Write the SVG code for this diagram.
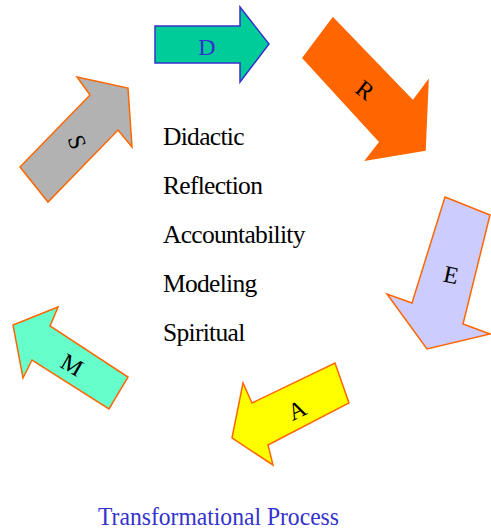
<svg xmlns="http://www.w3.org/2000/svg" width="491" height="530" viewBox="0 0 491 530">
<style>
.arrow{stroke:#FF6600;stroke-width:1.5;stroke-linejoin:miter}
.serif{font-family:'Liberation Serif','Times New Roman',Tinos,'DejaVu Serif',serif}
.lbl{font-size:24px;text-anchor:middle;fill:#000}
.item{font-size:25.5px;fill:#000;letter-spacing:-0.7px}
</style>
<rect width="491" height="530" fill="#fff"/>
<g id="arrow-D">
<polygon points="155,26 240,26 240,7 269,44 240,82 240,63 155,63" fill="#00CC99" stroke="#3333CC" stroke-width="1.5"/>
<text x="207" y="55" class="serif lbl" style="fill:#3333CC">D</text>
</g>
<g id="arrow-R">
<polygon class="arrow" points="333,18 413,101 428,81 425,150 366,160 380,142 303,58" fill="#FF6600"/>
<text class="serif lbl" transform="translate(365,90) rotate(38)" y="8">R</text>
</g>
<g id="arrow-E">
<polygon class="arrow" points="445,197 490,215 463,324 490,334 427,349 387,294 412,303" fill="#CCCCFF"/>
<text class="serif lbl" transform="translate(451,275) rotate(12)" y="8">E</text>
</g>
<g id="arrow-A">
<polygon class="arrow" points="335,363 349,403 268,445 273,465 232,438 243,383 252,403" fill="#FFFF00"/>
<text class="serif lbl" transform="translate(297,410) rotate(-25)" y="8">A</text>
</g>
<g id="arrow-M">
<polygon class="arrow" points="58,307 13,325 23,378 32,360 109,409 128,377 50,326" fill="#66FFCC"/>
<text class="serif lbl" transform="translate(72,365) rotate(30)" y="8">M</text>
</g>
<g id="arrow-S">
<polygon class="arrow" points="77,77 128,88 132,147 118,130 48,202 20,167 90,95" fill="#B2B2B2"/>
<text class="serif lbl" transform="translate(77,142) rotate(70)" y="8">S</text>
</g>
<g id="list">
<text class="serif item" x="163" y="145">Didactic</text>
<text class="serif item" x="163" y="194">Reflection</text>
<text class="serif item" x="163" y="243">Accountability</text>
<text class="serif item" x="163" y="292">Modeling</text>
<text class="serif item" x="163" y="341">Spiritual</text>
</g>
<g id="title">
<text class="serif" x="98" y="525" font-size="25" fill="#3333CC" textLength="241" lengthAdjust="spacingAndGlyphs">Transformational Process</text>
</g>
<g id="connectors"/>
</svg>
